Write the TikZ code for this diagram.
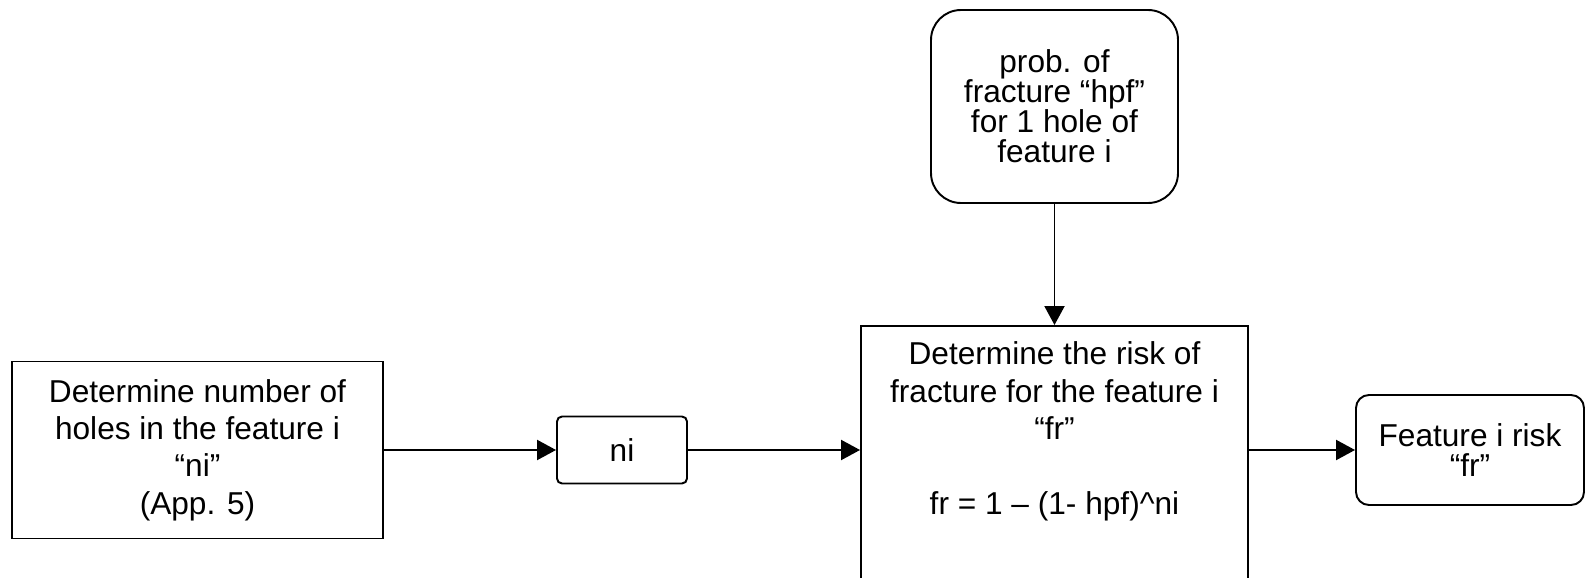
\documentclass[tikz,border=0pt]{standalone}
\usepackage{fontspec}
\setmainfont{Liberation Sans}
\usetikzlibrary{arrows.meta}

\begin{document}
\begin{tikzpicture}[
  line width=1.1pt,
  font=\fontsize{18}{21.3}\selectfont,
  procbox/.style={draw, rectangle, align=center, inner sep=0pt},
  databox/.style={draw, rectangle, rounded corners=#1, align=center, inner sep=0pt,
    font=\fontsize{18}{17}\selectfont},
  databox/.default=0.26cm,
  flow/.style={-{Triangle[length=10.8pt,width=11.4pt]}}
]
%\draw[step=1cm,gray,very thin] (0,0) grid (31.74,11.54);
\path[use as bounding box] (0,0) rectangle (31.74,11.54);
\clip (0,0) rectangle (31.74,11.54);
\node[procbox, minimum width=7.42cm, minimum height=3.54cm] (holes) at (3.95,2.54) {Determine number of\\holes in the feature i\\“ni”\\(App. 5)};
\node[databox=0.1cm, minimum width=2.6cm, minimum height=1.34cm] (ni) at (12.44,2.54) {ni};
\node[procbox, minimum width=7.74cm, minimum height=5.6cm, anchor=north] (risk) at (21.09,5.04) {};
\node[anchor=north, align=center] (risktext) at ([yshift=-0.2cm]risk.north) {Determine the risk of\\fracture for the feature i\\“fr”\\[21.3pt]fr = 1 – (1- hpf)\textasciicircum ni};
\node[databox=0.6cm, minimum width=4.94cm, minimum height=3.86cm] (prob) at (21.09,9.41) {prob. of\\fracture “hpf”\\for 1 hole of\\feature i};
\node[databox, minimum width=4.56cm, minimum height=2.2cm] (featrisk) at (29.4,2.54) {Feature i risk\\“fr”};
\draw[flow] (holes.east) -- (ni.west);
\draw[flow] (ni.east) -- (ni.east -| risk.west);
\draw[flow] (prob.south) -- (risk.north);
\draw[flow] (featrisk.west -| risk.east) -- (featrisk.west);
\end{tikzpicture}
\end{document}
